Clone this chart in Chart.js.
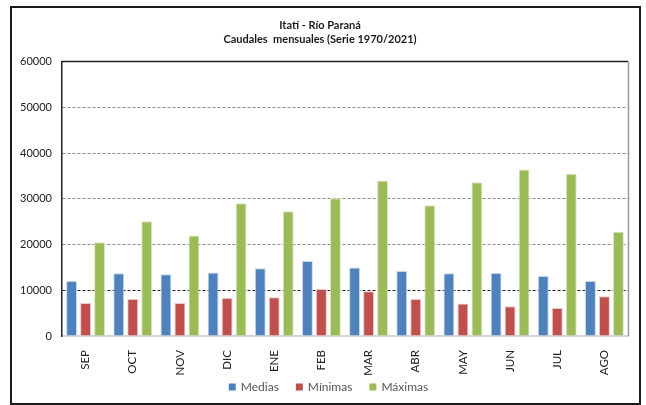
<!DOCTYPE html>
<html>
<head>
<meta charset="utf-8">
<script src="https://cdn.jsdelivr.net/npm/chart.js@4"></script>
<style>
  html, body { margin: 0; padding: 0; background: #fff; }
  #frame {
    position: absolute; left: 10px; top: 6px;
    width: 627px; height: 395px;
    border: 2px solid #1a1a1a;
  }
  canvas { display: block; }
</style>
</head>
<body>
<div id="frame"><canvas id="c" width="627" height="395"></canvas></div>
<script>
// Monthly flows, Itatí gauge on the Paraná river (m³/s)
const months = ["SEP", "OCT", "NOV", "DIC", "ENE", "FEB", "MAR", "ABR", "MAY", "JUN", "JUL", "AGO"];
const medias  = [12000, 13700, 13500, 13900, 14800, 16400, 15000, 14200, 13700, 13800, 13100, 12000];
const minimas = [7200, 8100, 7200, 8300, 8500, 10300, 9800, 8100, 7100, 6500, 6100, 8700];
const maximas = [20500, 25100, 22000, 29000, 27300, 30100, 34000, 28600, 33600, 36400, 35500, 22800];
const seriesNames = ["Medias", "Mínimas", "Máximas"];
const titleLines = ["Itatí - Río Paraná", "Caudales  mensuales (Serie 1970/2021)"];
const yTicks = [0, 10000, 20000, 30000, 40000, 50000, 60000];

const FONT = "Lato, 'Open Sans', sans-serif";

// outline of the plot area: dark top edge, grey right edge
const plotFrame = {
  id: "plotFrame",
  afterDatasetsDraw(chart) {
    const { ctx, chartArea: a } = chart;
    ctx.save();
    ctx.strokeStyle = "#222";
    ctx.lineWidth = 1.5;
    ctx.beginPath();
    ctx.moveTo(a.left, a.top);
    ctx.lineTo(a.right, a.top);
    ctx.stroke();
    ctx.strokeStyle = "#9a9a9a";
    ctx.lineWidth = 1.5;
    ctx.beginPath();
    ctx.moveTo(a.right + 0.5, a.top);
    ctx.lineTo(a.right + 0.5, a.bottom);
    ctx.stroke();
    ctx.restore();
  }
};

// compact one-row legend below the month labels, built from the datasets
const bottomLegend = {
  id: "bottomLegend",
  afterDraw(chart) {
    const { ctx } = chart;
    const box = 7, textGap = 5, itemGap = 17;
    ctx.save();
    ctx.font = "12px " + FONT;
    ctx.textBaseline = "middle";
    const items = chart.data.datasets.map(d => ({
      text: d.label, color: d.backgroundColor, w: ctx.measureText(d.label).width
    }));
    const total = items.reduce((s, it) => s + box + textGap + it.w, 0) + itemGap * (items.length - 1);
    let x = chart.width / 2 + 3 - total / 2;
    const y = chart.height - 16;
    for (const it of items) {
      ctx.fillStyle = it.color;
      ctx.fillRect(x, y - box / 2, box, box);
      x += box + textGap;
      ctx.fillStyle = "#555";
      ctx.fillText(it.text, x, y + 0.5);
      x += it.w + itemGap;
    }
    ctx.restore();
  }
};

const ds = (label, data, color, edge) => ({
  label, data,
  backgroundColor: color,
  borderColor: edge,
  borderWidth: 1,
  categoryPercentage: 0.89,
  barPercentage: 0.78
});

new Chart(document.getElementById("c"), {
  type: "bar",
  data: {
    labels: months,
    datasets: [
      ds(seriesNames[0], medias, "#4F81BD", "#c9d8ec"),
      ds(seriesNames[1], minimas, "#C0504D", "#ecc9c8"),
      ds(seriesNames[2], maximas, "#9BBB59", "#dbe8c4")
    ]
  },
  options: {
    responsive: false,
    animation: false,
    layout: { padding: { left: 0, right: 11, top: 0, bottom: 27 } },
    plugins: {
      title: {
        display: true,
        text: titleLines,
        color: "#1a1a1a",
        font: { family: FONT, size: 11, weight: "bold", lineHeight: 1.3 },
        padding: { top: 10, bottom: 15 }
      },
      legend: { display: false },
      tooltip: { enabled: false }
    },
    scales: {
      x: {
        grid: { display: false },
        border: { color: "#d4d4d4", width: 2 },
        ticks: {
          color: "#222",
          font: { family: FONT, size: 11.5 },
          minRotation: 90,
          maxRotation: 90,
          padding: 6
        },
        afterFit(s) { s.height = 40; }
      },
      y: {
        min: 0, max: 60000,
        afterBuildTicks(s) { s.ticks = yTicks.map(v => ({ value: v })); },
        ticks: {
          color: "#222",
          font: { family: FONT, size: 11 },
          padding: 10,
          callback: (v) => String(v)
        },
        grid: {
          drawTicks: false,
          color: (c) => c.tick && c.tick.value === 10000 ? "#222" : (c.tick && c.tick.value === 0 ? "rgba(0,0,0,0)" : "#8a8a8a"),
          lineWidth: 1
        },
        border: { color: "#222", width: 1.5, dash: [3, 2] },
        afterFit(s) { s.width = 50; }
      }
    }
  },
  plugins: [plotFrame, bottomLegend]
});
</script>
</body>
</html>
